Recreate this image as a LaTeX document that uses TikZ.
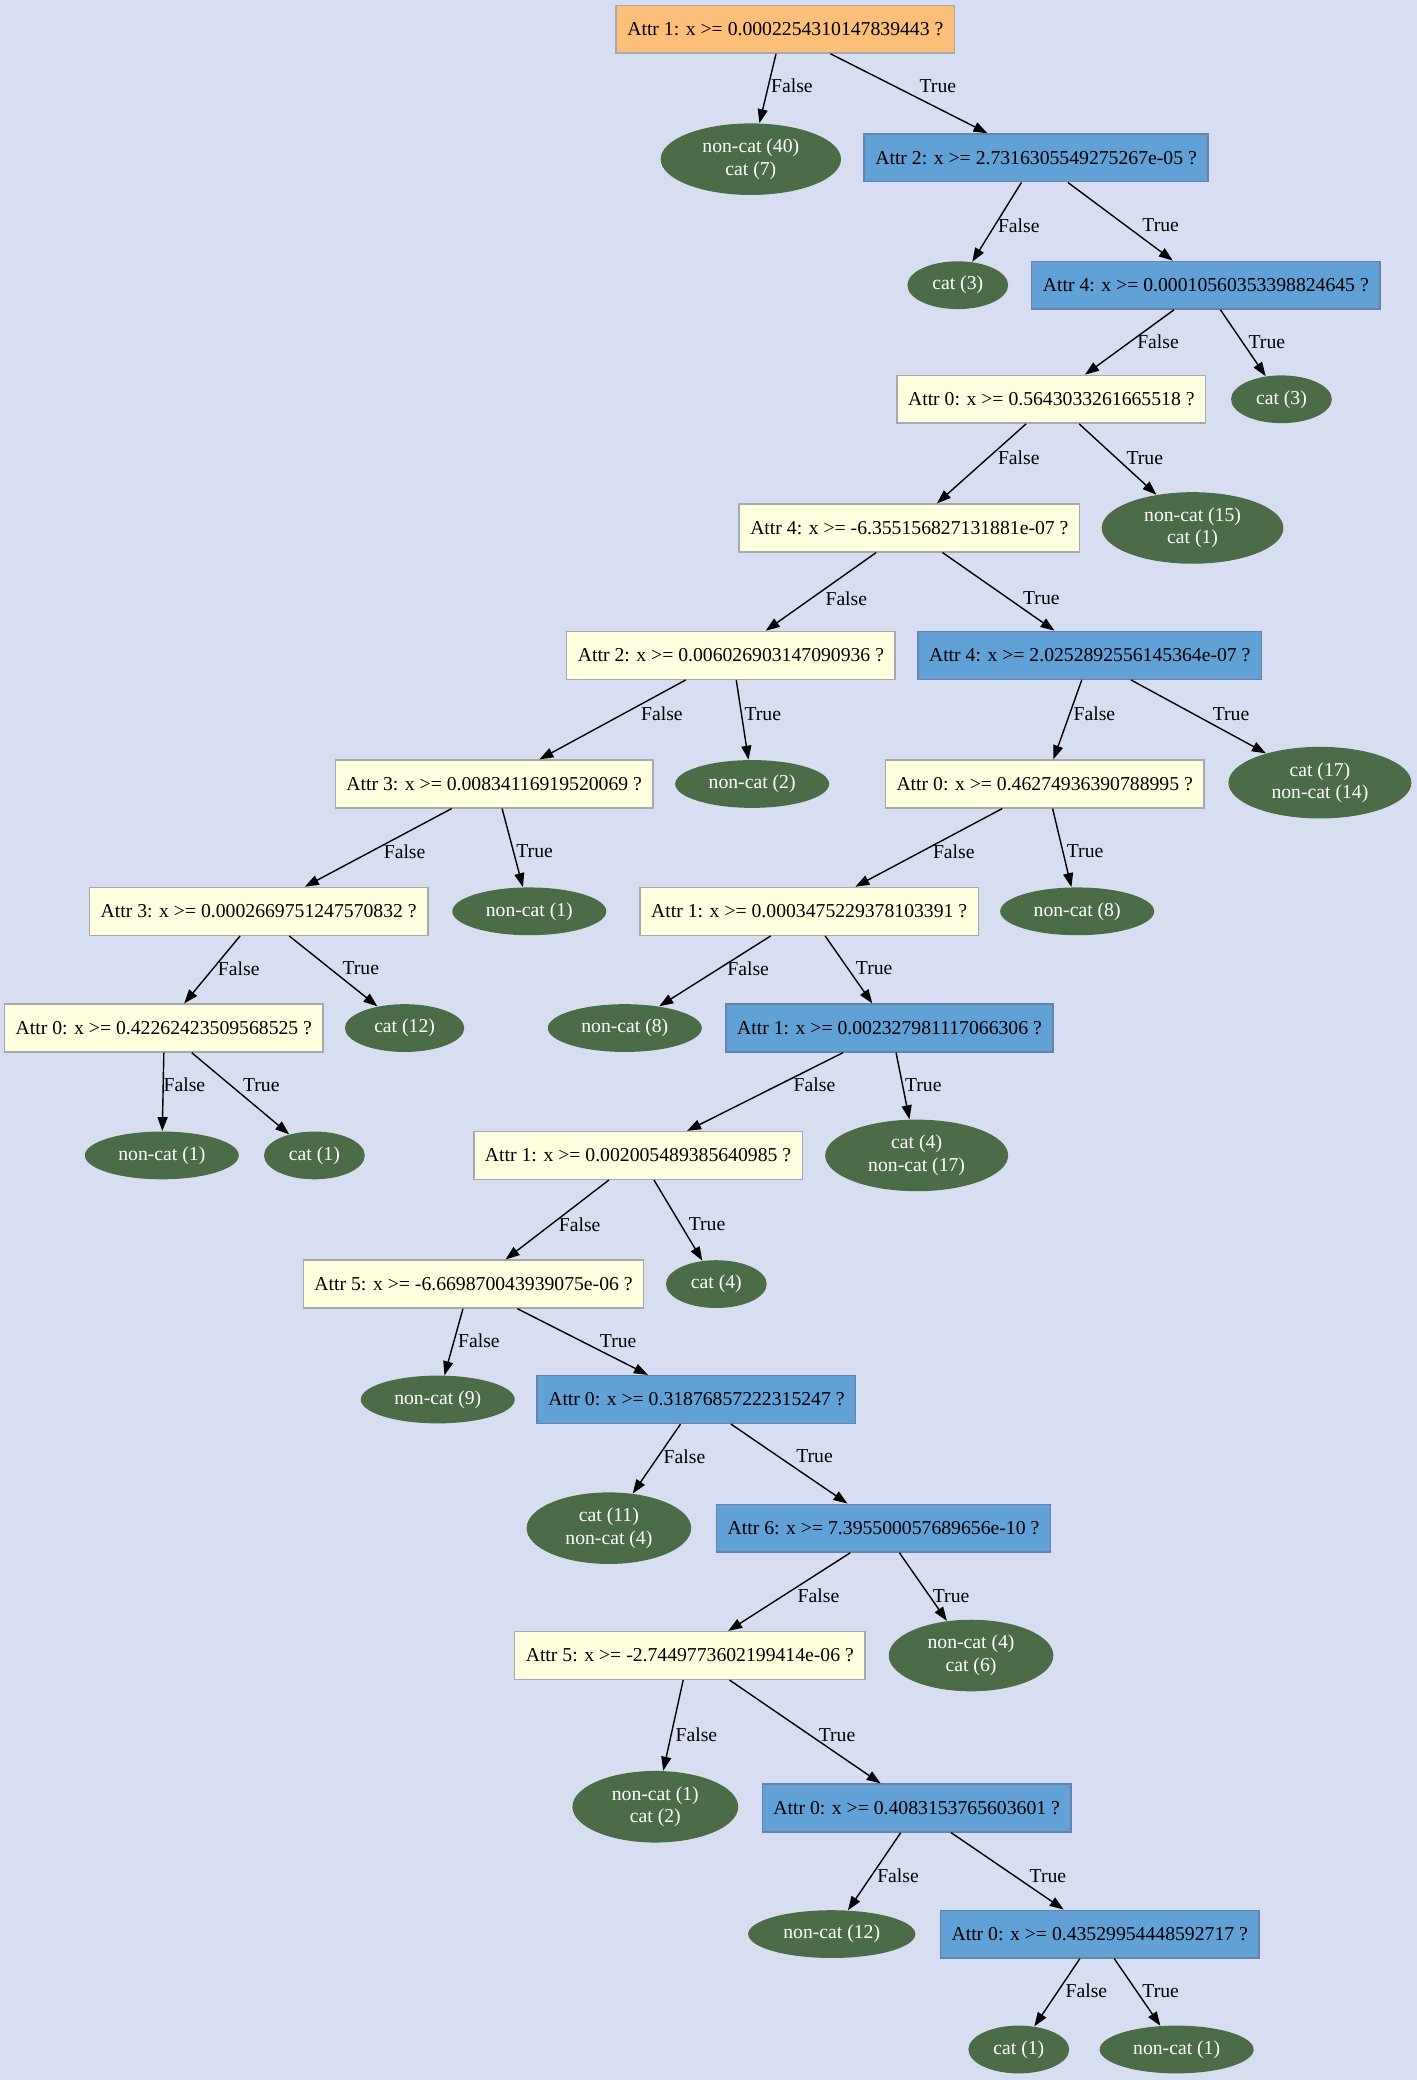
\documentclass[tikz,border=0pt]{standalone}
\usepackage{fontspec}
\setmainfont{Liberation Serif}
\usetikzlibrary{shapes.geometric,arrows.meta}
\definecolor{bgc}{RGB}{216,222,241}
\definecolor{rootc}{RGB}{251,191,122}
\definecolor{bluec}{RGB}{98,161,214}
\definecolor{yelc}{RGB}{255,255,224}
\definecolor{leafc}{RGB}{74,108,70}
\definecolor{borderc}{RGB}{168,168,176}
\definecolor{bborderc}{RGB}{100,130,170}
\begin{document}
\begin{tikzpicture}[x=0.6634pt,y=-0.6634pt,
  every node/.style={font=\fontsize{9.85}{11.3}\selectfont},
  box/.style={rectangle, draw=borderc, line width=0.7pt, minimum height=23.9pt, inner xsep=5.57pt, inner ysep=0pt},
  rootbox/.style={box, fill=rootc},
  bluebox/.style={box, fill=bluec, draw=bborderc},
  yelbox/.style={box, fill=yelc},
  leaf/.style={ellipse, fill=leafc, text=white, inner sep=0pt, align=center, minimum height=23.9pt},
  leafii/.style={leaf, minimum height=35.8pt},
  edge/.style={line width=0.7pt, -{Triangle[length=7pt,width=5pt]}},
  lbl/.style={inner sep=0pt, text=black}
]
\fill[bgc] (0,0) rectangle (1068,1568);

% decision nodes
\node[rootbox] (r) at (592,22) {Attr 1: x >= 0.0002254310147839443 ?};
\node[bluebox] (a2) at (781,119) {Attr 2: x >= 2.7316305549275267e-05 ?};
\node[bluebox] (a4a) at (909,215) {Attr 4: x >= 0.00010560353398824645 ?};
\node[yelbox] (a0a) at (792.5,301) {Attr 0: x >= 0.5643033261665518 ?};
\node[yelbox] (a4b) at (685.5,398) {Attr 4: x >= -6.355156827131881e-07 ?};
\node[yelbox] (a2b) at (551,494) {Attr 2: x >= 0.006026903147090936 ?};
\node[bluebox] (a4c) at (821.5,494) {Attr 4: x >= 2.0252892556145364e-07 ?};
\node[yelbox] (a3a) at (372.5,591) {Attr 3: x >= 0.00834116919520069 ?};
\node[yelbox] (a0b) at (787.5,591) {Attr 0: x >= 0.46274936390788995 ?};
\node[yelbox] (a3b) at (195,687) {Attr 3: x >= 0.0002669751247570832 ?};
\node[yelbox] (a1a) at (610,687) {Attr 1: x >= 0.0003475229378103391 ?};
\node[yelbox] (a0c) at (123.5,775) {Attr 0: x >= 0.42262423509568525 ?};
\node[bluebox] (a1b) at (670.5,775) {Attr 1: x >= 0.002327981117066306 ?};
\node[yelbox] (a1c) at (481,871) {Attr 1: x >= 0.002005489385640985 ?};
\node[yelbox] (a5a) at (357,968) {Attr 5: x >= -6.669870043939075e-06 ?};
\node[bluebox] (a0d) at (525,1055) {Attr 0: x >= 0.31876857222315247 ?};
\node[bluebox] (a6) at (666,1152) {Attr 6: x >= 7.395500057689656e-10 ?};
\node[yelbox] (a5b) at (520,1248) {Attr 5: x >= -2.7449773602199414e-06 ?};
\node[bluebox] (a0e) at (691,1363) {Attr 0: x >= 0.4083153765603601 ?};
\node[bluebox] (a0f) at (829,1458) {Attr 0: x >= 0.43529954448592717 ?};

% leaves
\node[leafii, minimum width=90.2pt] (l1) at (566,120) {non-cat (40)\\cat (7)};
\node[leaf, minimum width=50.4pt] (l2) at (722,215) {cat (3)};
\node[leaf, minimum width=50.4pt] (l3) at (966,301) {cat (3)};
\node[leafii, minimum width=90.9pt] (l4) at (899,398) {non-cat (15)\\cat (1)};
\node[leaf, minimum width=77pt] (l5) at (567,591) {non-cat (2)};
\node[leafii, minimum width=91.5pt] (l6) at (995,590) {cat (17)\\non-cat (14)};
\node[leaf, minimum width=77pt] (l7) at (399,687) {non-cat (1)};
\node[leaf, minimum width=77pt] (l8) at (812,687) {non-cat (8)};
\node[leaf, minimum width=59.7pt] (l9) at (305,775) {cat (12)};
\node[leaf, minimum width=77pt] (l10) at (471,775) {non-cat (8)};
\node[leaf, minimum width=77pt] (l11) at (122,871) {non-cat (1)};
\node[leaf, minimum width=50.4pt] (l12) at (237,871) {cat (1)};
\node[leafii, minimum width=91.5pt] (l13) at (691,871) {cat (4)\\non-cat (17)};
\node[leaf, minimum width=50.4pt] (l14) at (540,968) {cat (4)};
\node[leaf, minimum width=77pt] (l15) at (330,1055) {non-cat (9)};
\node[leafii, minimum width=82.3pt] (l16) at (459,1152) {cat (11)\\non-cat (4)};
\node[leafii, minimum width=82.3pt] (l17) at (732,1248) {non-cat (4)\\cat (6)};
\node[leafii, minimum width=82.9pt] (l18) at (494,1362) {non-cat (1)\\cat (2)};
\node[leaf, minimum width=83.6pt] (l19) at (627,1458) {non-cat (12)};
\node[leaf, minimum width=50.4pt] (l20) at (768,1545) {cat (1)};
\node[leaf, minimum width=77pt] (l21) at (887,1545) {non-cat (1)};

% edges
\draw[edge] ([shift={(-7,0)}]r.south) -- (l1);
\draw[edge] ([shift={(34,0)}]r.south) -- (a2);
\draw[edge] ([shift={(-11,0)}]a2.south) -- (l2);
\draw[edge] ([shift={(24,0)}]a2.south) -- (a4a);
\draw[edge] ([shift={(-24,0)}]a4a.south) -- (a0a);
\draw[edge] ([shift={(11,0)}]a4a.south) -- (l3);
\draw[edge] ([shift={(-19,0)}]a0a.south) -- (a4b);
\draw[edge] ([shift={(21,0)}]a0a.south) -- (l4);
\draw[edge] ([shift={(-25,0)}]a4b.south) -- (a2b);
\draw[edge] ([shift={(25,0)}]a4b.south) -- (a4c);
\draw[edge] ([shift={(-34,0)}]a2b.south) -- (a3a);
\draw[edge] ([shift={(4,0)}]a2b.south) -- (l5);
\draw[edge] ([shift={(-6,0)}]a4c.south) -- (a0b);
\draw[edge] ([shift={(31,0)}]a4c.south) -- (l6);
\draw[edge] ([shift={(-32,0)}]a3a.south) -- (a3b);
\draw[edge] ([shift={(6,0)}]a3a.south) -- (l7);
\draw[edge] ([shift={(-32,0)}]a0b.south) -- (a1a);
\draw[edge] ([shift={(6,0)}]a0b.south) -- (l8);
\draw[edge] ([shift={(-14,0)}]a3b.south) -- (a0c);
\draw[edge] ([shift={(23,0)}]a3b.south) -- (l9);
\draw[edge] ([shift={(-29,0)}]a1a.south) -- (l10);
\draw[edge] ([shift={(12,0)}]a1a.south) -- (a1b);
\draw[edge] ([shift={(0,0)}]a0c.south) -- (l11);
\draw[edge] ([shift={(21,0)}]a0c.south) -- (l12);
\draw[edge] ([shift={(-35,0)}]a1b.south) -- (a1c);
\draw[edge] ([shift={(5,0)}]a1b.south) -- (l13);
\draw[edge] ([shift={(-22,0)}]a1c.south) -- (a5a);
\draw[edge] ([shift={(12,0)}]a1c.south) -- (l14);
\draw[edge] ([shift={(-8,0)}]a5a.south) -- (l15);
\draw[edge] ([shift={(33,0)}]a5a.south) -- (a0d);
\draw[edge] ([shift={(-12,0)}]a0d.south) -- (l16);
\draw[edge] ([shift={(26,0)}]a0d.south) -- (a6);
\draw[edge] ([shift={(-25,0)}]a6.south) -- (a5b);
\draw[edge] ([shift={(12,0)}]a6.south) -- (l17);
\draw[edge] ([shift={(-5,0)}]a5b.south) -- (l18);
\draw[edge] ([shift={(30,0)}]a5b.south) -- (a0e);
\draw[edge] ([shift={(-12,0)}]a0e.south) -- (l19);
\draw[edge] ([shift={(26,0)}]a0e.south) -- (a0f);
\draw[edge] ([shift={(-15,0)}]a0f.south) -- (l20);
\draw[edge] ([shift={(11,0)}]a0f.south) -- (l21);

% edge labels
\node[lbl] (f1) at (597,65) {False};   \node[lbl] (t1) at (707,65) {True};
\node[lbl] (f2) at (768,170) {False};  \node[lbl] (t2) at (875,170) {True};
\node[lbl] (f3) at (873,258) {False};  \node[lbl] (t3) at (955,258) {True};
\node[lbl] (f4) at (768,345) {False};  \node[lbl] (t4) at (863,345) {True};
\node[lbl] (f5) at (638,451) {False};  \node[lbl] (t5) at (785,451) {True};
\node[lbl] (f6) at (499,538) {False};  \node[lbl] (t6) at (575,538) {True};
\node[lbl] (f7) at (825,538) {False};  \node[lbl] (t7) at (928,538) {True};
\node[lbl] (f8) at (305,642) {False};  \node[lbl] (t8) at (403,642) {True};
\node[lbl] (f9) at (719,642) {False};  \node[lbl] (t9) at (818,642) {True};
\node[lbl] (f10) at (180,730) {False}; \node[lbl] (t10) at (272,730) {True};
\node[lbl] (f11) at (564,730) {False}; \node[lbl] (t11) at (659,730) {True};
\node[lbl] (f12) at (139,818) {False}; \node[lbl] (t12) at (197,818) {True};
\node[lbl] (f13) at (614,818) {False}; \node[lbl] (t13) at (696,818) {True};
\node[lbl] (f14) at (437,923) {False}; \node[lbl] (t14) at (533,923) {True};
\node[lbl] (f15) at (361,1011) {False}; \node[lbl] (t15) at (466,1011) {True};
\node[lbl] (f16) at (516,1098) {False}; \node[lbl] (t16) at (614,1098) {True};
\node[lbl] (f17) at (617,1203) {False}; \node[lbl] (t17) at (717,1203) {True};
\node[lbl] (f18) at (525,1308) {False}; \node[lbl] (t18) at (631,1308) {True};
\node[lbl] (f19) at (677,1414) {False}; \node[lbl] (t19) at (790,1414) {True};
\node[lbl] (f20) at (819,1501) {False}; \node[lbl] (t20) at (875,1501) {True};
\end{tikzpicture}
\end{document}
